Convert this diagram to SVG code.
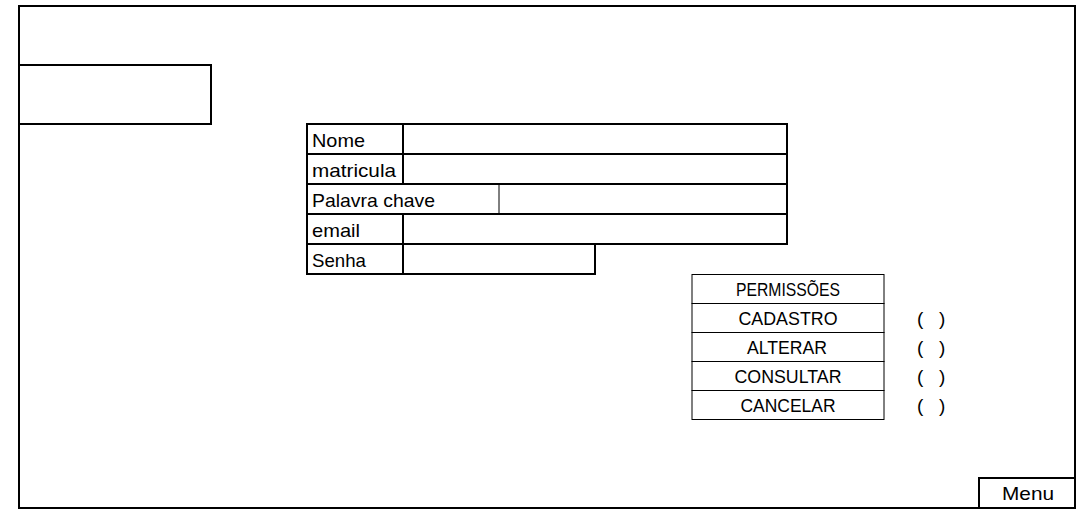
<svg xmlns="http://www.w3.org/2000/svg" width="1092" height="525" viewBox="0 0 1092 525">
<style>
.b2{fill:#fff;stroke:#000;stroke-width:2}
.b1{fill:#fff;stroke:#000;stroke-width:1}
.t{font-family:"Liberation Sans",Arial,sans-serif;font-size:19px;fill:#000}
.c{text-anchor:middle}
</style>
<rect width="1092" height="525" fill="#fff"/>
<g id="frame"><rect class="b2" x="19" y="6" width="1056" height="502"/></g>
<g id="logo-box"><rect class="b2" x="19" y="65" width="192" height="59"/></g>
<g id="form">
<rect class="b2" x="307" y="124" width="480" height="30"/>
<line x1="403" y1="124" x2="403" y2="154" stroke="#000" stroke-width="2"/>
<text class="t" x="312" y="147" textLength="53" lengthAdjust="spacingAndGlyphs">Nome</text>
<rect class="b2" x="307" y="154" width="480" height="30"/>
<line x1="403" y1="154" x2="403" y2="184" stroke="#000" stroke-width="2"/>
<text class="t" x="312" y="177" textLength="84" lengthAdjust="spacingAndGlyphs">matricula</text>
<rect class="b2" x="307" y="184" width="480" height="30"/>
<line x1="499" y1="184" x2="499" y2="214" stroke="#000" stroke-width="1"/>
<text class="t" x="312" y="207" textLength="123" lengthAdjust="spacingAndGlyphs">Palavra chave</text>
<rect class="b2" x="307" y="214" width="480" height="30"/>
<line x1="403" y1="214" x2="403" y2="244" stroke="#000" stroke-width="2"/>
<text class="t" x="312" y="237" textLength="48" lengthAdjust="spacingAndGlyphs">email</text>
<rect class="b2" x="307" y="244" width="288" height="30"/>
<line x1="403" y1="244" x2="403" y2="274" stroke="#000" stroke-width="2"/>
<text class="t" x="312" y="267" textLength="54" lengthAdjust="spacingAndGlyphs">Senha</text>
</g>
<g id="permissions">
<rect class="b1" x="692" y="274.5" width="192" height="29"/>
<text class="t c" x="788" y="296" textLength="104" lengthAdjust="spacingAndGlyphs">PERMISSÕES</text>
<rect class="b1" x="692" y="303.5" width="192" height="29"/>
<text class="t c" x="788" y="325" textLength="99" lengthAdjust="spacingAndGlyphs">CADASTRO</text>
<rect class="b1" x="692" y="332.5" width="192" height="29"/>
<text class="t c" x="787" y="354" textLength="80" lengthAdjust="spacingAndGlyphs">ALTERAR</text>
<rect class="b1" x="692" y="361.5" width="192" height="29"/>
<text class="t c" x="788" y="383" textLength="107" lengthAdjust="spacingAndGlyphs">CONSULTAR</text>
<rect class="b1" x="692" y="390.5" width="192" height="29"/>
<text class="t c" x="788" y="412" textLength="95" lengthAdjust="spacingAndGlyphs">CANCELAR</text>
<text class="t" x="917" y="325">(</text><text class="t" x="939" y="325">)</text>
<text class="t" x="917" y="354">(</text><text class="t" x="939" y="354">)</text>
<text class="t" x="917" y="383">(</text><text class="t" x="939" y="383">)</text>
<text class="t" x="917" y="412">(</text><text class="t" x="939" y="412">)</text>
</g>
<g id="menu">
<rect class="b2" x="979" y="478" width="96" height="30"/>
<text class="t" x="1002" y="500" textLength="52" lengthAdjust="spacingAndGlyphs">Menu</text>
</g>
<g id="connectors"/>
</svg>
